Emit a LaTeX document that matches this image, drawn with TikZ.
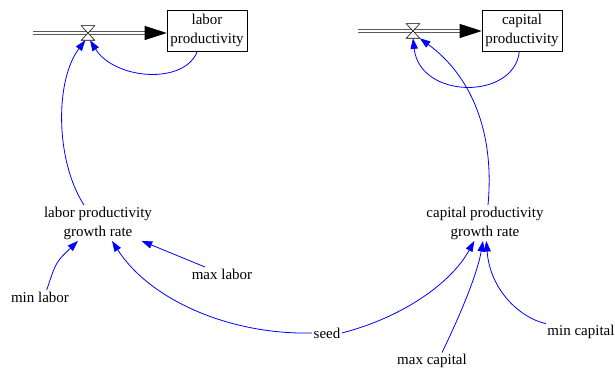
\documentclass[tikz,border=0pt]{standalone}
\usepackage{fontspec}
\setmainfont{Liberation Serif}
\usetikzlibrary{arrows.meta, positioning, calc}

\begin{document}
\begin{tikzpicture}[
    x=0.75pt, y=-0.75pt,
    level/.style={rectangle, draw=black, thin, minimum width=60pt, minimum height=30.5pt, align=center, inner sep=1pt, font=\fontsize{11.25}{14.5}\selectfont},
    aux/.style={align=center, inner sep=1pt, font=\fontsize{11.25}{14.25}\selectfont},
    valve/.style={rectangle, minimum width=9.75pt, minimum height=10.5pt, inner sep=0pt},
    pipe/.style={draw=black!65, line width=0.7pt, double=white, double distance=1.4pt, -{Triangle[length=16.5pt, width=10.5pt, color=black]}},
    link/.style={draw=blue, line width=0.6pt, -{Triangle[length=8pt, width=5.5pt]}}
]
    \useasboundingbox (0,0) rectangle (615,373);

    \node[level] (lprod) at (207,30.5) {labor\\productivity};
    \node[level] (kprod) at (522,30.5) {capital\\productivity};
    \coordinate (lsrc) at (33,33);
    \coordinate (ksrc) at (358,31);
    \node[valve] (lvalve) at (88,33) {};
    \node[valve] (kvalve) at (413,31) {};

    \node[aux] (lrate) at (98,223) {labor productivity\\growth rate};
    \node[aux] (krate) at (485,223) {capital productivity\\growth rate};
    \node[aux] (maxl) at (222,274) {max labor};
    \node[aux] (minl) at (40,297) {min labor};
    \node[aux] (seed) at (327,333) {seed};
    \node[aux] (maxk) at (432,361) {max capital};
    \node[aux] (mink) at (581,332) {min capital};

    \draw[pipe] (lsrc) -- (lsrc -| lprod.west);
    \draw[pipe] (ksrc) -- (ksrc -| kprod.west);
    \draw[fill=white, thin] (lvalve.north west) -- (lvalve.north east) -- (lvalve.south west) -- (lvalve.south east) -- cycle;
    \draw[fill=white, thin] (kvalve.north west) -- (kvalve.north east) -- (kvalve.south west) -- (kvalve.south east) -- cycle;

    \draw[link] (lprod.-115) .. controls (185,85) and (115,80) .. ([xshift=1.5pt]lvalve.south);
    \draw[link] ([xshift=-10.5pt]lrate.north) .. controls (55,160) and (55,80) .. ([xshift=-2pt]lvalve.south);
    \draw[link] ([xshift=-2pt]kprod.south) .. controls (515,100) and (420,100) .. (kvalve.south);
    \draw[link] ([xshift=2.25pt]krate.north) .. controls (495,130) and (470,75) .. (kvalve.south east);
    \draw[link] (maxl) -- (lrate);
    \draw[link] ([xshift=5pt]minl.north) .. controls (56,262) .. ([xshift=-15pt]lrate.south);
    \draw[link] (seed.west) .. controls (230,335) and (150,300) .. ([xshift=10.5pt]lrate.south);
    \draw[link] (seed.east) .. controls (400,318) and (450,285) .. ([xshift=-8pt]krate.south);
    \draw[link] ([xshift=7.5pt]maxk.north) .. controls (465,305) and (478,270) .. ([xshift=-1.5pt]krate.south);
    \draw[link] (mink.north west) .. controls (520,318) and (490,290) .. ([xshift=1pt]krate.south);
\end{tikzpicture}
\end{document}
